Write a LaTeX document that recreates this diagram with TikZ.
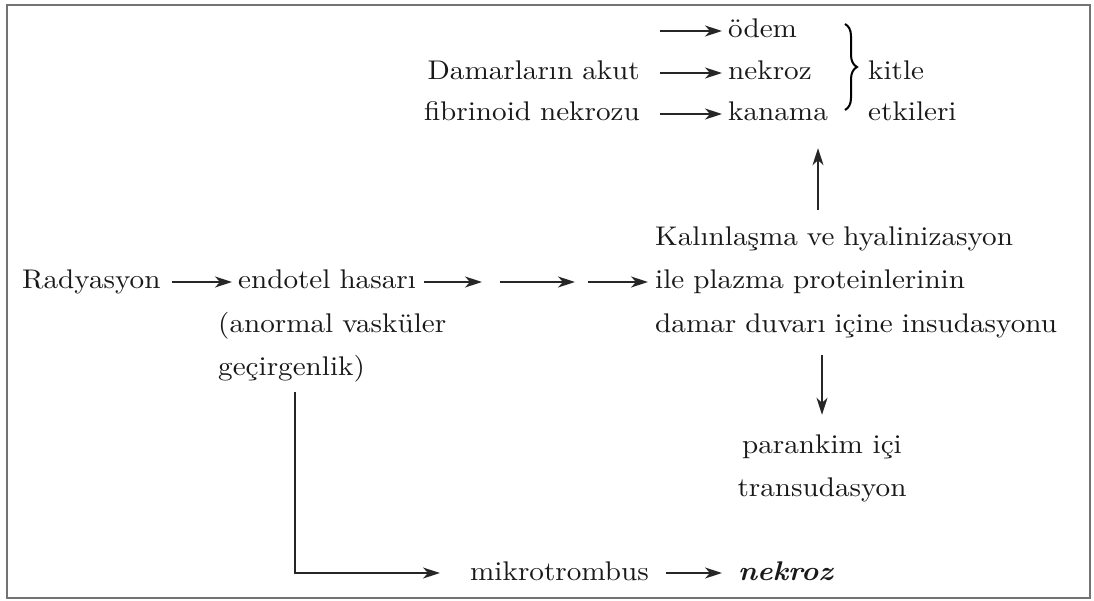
\documentclass[tikz,border=0pt]{standalone}
\usepackage{fontspec}
\setmainfont{lmroman10-regular.otf}[
  BoldFont=lmroman10-bold.otf,
  ItalicFont=lmroman10-italic.otf,
  BoldItalicFont=lmroman10-bolditalic.otf,
  FakeStretch=1.08]
\usetikzlibrary{arrows.meta,decorations.pathreplacing,calc}
\begin{document}
\begin{tikzpicture}[x=1pt,y=-1pt,
  font=\fontsize{27}{32}\selectfont,
  txt/.style={inner sep=0pt, text height=19pt, text depth=5pt, text=black!90},
  wl/.style={txt, text width=#1, align=left, anchor=base west},
  wr/.style={txt, text width=#1, align=right, anchor=base east},
  arr/.style={-{Stealth[length=17pt,width=11pt,inset=5pt]}, line width=1.5pt, draw=black!85},
  frame/.style={draw=black!55, line width=2pt}
  ]
\useasboundingbox (0,0) rectangle (1094,601);
\draw[frame] (7,5) rectangle (1090,598);

% top block
\node[wl=90pt]  (oedem)   at (728,38)  {ödem};
\node[wl=100pt] (nekA)    at (728,80)  {nekroz};
\node[wl=110pt] (kanama)  at (728,121) {kanama};
\node[wr=300pt] (damar)   at (640,80)  {Damarların akut};
\node[wr=300pt] (fibri)   at (640,121) {fibrinoid nekrozu};
\node[wl=80pt]  (kitle)   at (868,80)  {kitle};
\node[wl=110pt] (etki)    at (868,121) {etkileri};
\coordinate (oS) at (660,31);
\draw[arr, shorten >=6pt] (oS) -- (oedem.west);
\draw[arr, shorten <=20pt, shorten >=6pt] (damar.east) -- (nekA.west);
\draw[arr, shorten <=20pt, shorten >=6pt] (fibri.east) -- (kanama.west);
\coordinate (bT) at (845,24);
\coordinate (bB) at (845,110);
\draw[line width=2pt, decorate, decoration={brace, amplitude=12pt}] (bT) -- (bB);

% right block
\node[wl=400pt] (kalin)  at (655,246) {Kalınlaşma ve hyalinizasyon};
\node[wl=400pt] (ile)    at (655,289) {ile plazma proteinlerinin};
\node[wl=425pt] (damarB) at (655,332) {damar duvarı içine insudasyonu};
\node[txt, anchor=base] (paran) at (822,453) {parankim içi};
\node[txt, anchor=base] (trans) at (822,496) {transudasyon};
\coordinate (upx) at (818,0);
\draw[arr, shorten <=17pt, shorten >=22pt] (kalin.north -| upx) -- (kanama.south -| upx);
\draw[arr, shorten <=18pt, shorten >=19pt] (damarB.south -| paran.north) -- (paran.north);

% left block
\node[wl=143pt] (rad)   at (22,289)  {Radyasyon};
\node[wl=184pt] (endo)  at (238,289) {endotel hasarı};
\node[wl=300pt] (anorm) at (218,332) {(anormal vasküler};
\node[wl=154pt] (gecir) at (218,375) {geçirgenlik)};
\coordinate (c1) at (482,282);
\coordinate (c2) at (500,282);
\coordinate (c3) at (575,282);
\coordinate (c4) at (588,282);
\draw[arr, shorten <=7pt, shorten >=6pt] (rad.east) -- (endo.west);
\draw[arr, shorten <=2pt] (endo.east) -- (c1);
\draw[arr] (c2) -- (c3);
\draw[arr, shorten >=7pt] (c4) -- (ile.west);

% bottom
\node[wl=186pt] (mikro) at (470,580) {mikrotrombus};
\node[wl=100pt] (nekB)  at (738,580) {\textbf{\textit{nekroz}}};
\draw[arr, shorten <=12pt, shorten >=30pt] (gecir.south) |- (mikro.west);
\draw[arr, shorten <=10pt, shorten >=16pt] (mikro.east) -- (nekB.west);
\end{tikzpicture}
\end{document}
